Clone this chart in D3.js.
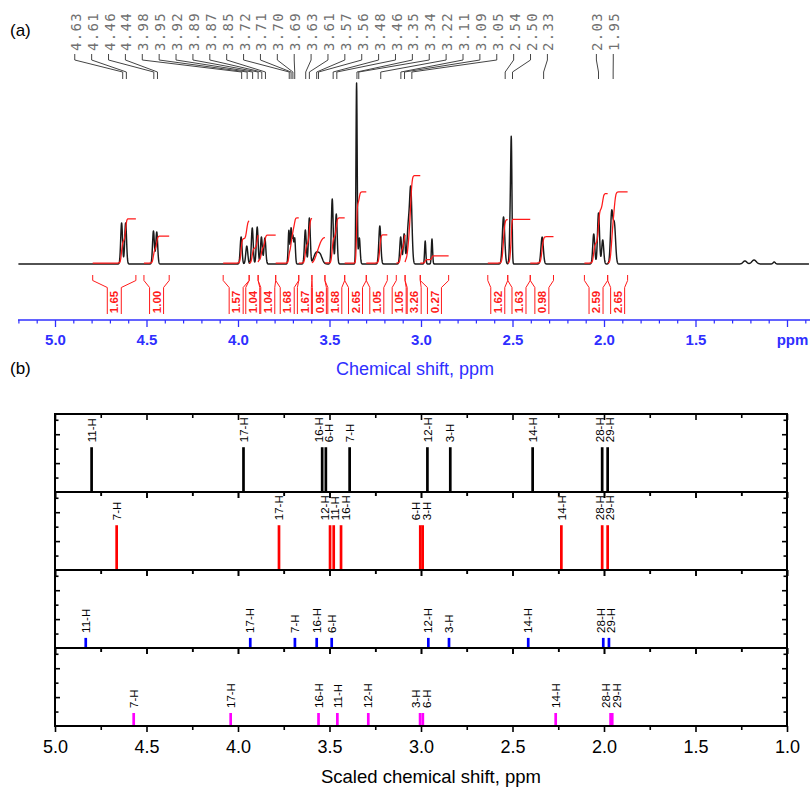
<!DOCTYPE html>
<html><head><meta charset="utf-8">
<script src="https://cdn.jsdelivr.net/npm/d3@7"></script>
<style>body{margin:0;background:#fff}svg{display:block}</style>
</head><body>
<svg id="c" width="810" height="787"></svg>
<script>
// ================= DATA =================
// Panel (a): 1H NMR spectrum peaks (ppm, relative intensity %, line sd in ppm)
const peakPpm = [4.636,4.614,4.462,4.444,3.983,3.952,3.922,3.895,3.872,3.853,3.722,3.710,3.700,3.690,3.632,3.610,3.575,3.552,3.485,3.463,3.352,3.337,3.225,3.111,3.092,3.070,3.056,2.977,2.940,2.549,2.506,2.511,2.338,2.056,2.030,2.007,1.958,1.943,1.23,1.18,1.07];
const peakInt = [22.7,22.7,18.2,17.7,14.9,9.9,19.9,20.4,14.9,14.4,18.5,19.5,15.0,14.0,18.8,25.4,5.5,5.0,35.9,27.6,100,14.4,21.0,14.9,16.6,19.3,41.0,12.7,13.8,26.0,52.5,30.4,14.9,16.6,28.2,13.3,28.2,21.0,1.7,2.2,1.1];
const peakSd = [.005,.005,.005,.005,.005,.0055,.005,.005,.005,.005,.0038,.0038,.0038,.0038,.005,.005,.012,.012,.005,.005,.0033,.0045,.0055,.005,.005,.0065,.0065,.0033,.0033,.0065,.0033,.0045,.0065,.0055,.0055,.0055,.0065,.0065,.01,.012,.006];
// Peak pick labels
const peakLabels = ["4.63","4.61","4.46","4.44","3.98","3.95","3.92","3.89","3.87","3.85","3.72","3.71","3.70","3.69","3.63","3.61","3.57","3.56","3.48","3.46","3.35","3.34","3.22","3.11","3.09","3.05","2.54","2.50","2.33","2.03","1.95"];
// Integration regions
const intFrom = [4.794,4.514,4.081,3.939,3.890,3.794,3.668,3.596,3.525,3.417,3.299,3.135,3.087,3.004,2.635,2.526,2.403,2.107,1.980];
const intTo   = [4.558,4.376,3.939,3.890,3.794,3.668,3.596,3.525,3.417,3.299,3.184,3.087,3.004,2.849,2.526,2.403,2.276,1.980,1.871];
const intValues = ["1.65","1.00","1.57","1.04","1.04","1.68","1.67","0.95","1.68","2.65","1.05","1.05","3.26","0.27","1.62","1.63","0.98","2.59","2.65"];
// Axis (a)
const aMajorTicks = [5.0,4.5,4.0,3.5,3.0,2.5,2.0,1.5,1.0];
const aTickLabels = ["5.0","4.5","4.0","3.5","3.0","2.5","2.0","1.5","ppm"];
const aMinorTicks = [5.2,5.1,4.9,4.8,4.7,4.6,4.4,4.3,4.2,4.1,3.9,3.8,3.7,3.6,3.4,3.3,3.2,3.1,2.9,2.8,2.7,2.6,2.4,2.3,2.2,2.1,1.9,1.8,1.7,1.6,1.4,1.3,1.2,1.1,0.9];

// Panel (b): scaled calculated shifts, four series
const s1Labels = ["11-H","17-H","16-H","6-H","7-H","12-H","3-H","14-H","28-H","29-H"];
const s1Pos    = [4.80,3.97,3.54,3.52,3.39,2.965,2.84,2.39,2.01,1.98];
const s1Vals   = [0.62,0.62,0.62,0.62,0.62,0.62,0.62,0.62,0.62,0.62];
const s2Labels = ["7-H","17-H","12-H","11-H","16-H","6-H","3-H","14-H","28-H","29-H"];
const s2Pos    = [4.663,3.776,3.497,3.477,3.437,3.004,2.991,2.233,2.01,1.98];
const s2Vals   = [0.62,0.62,0.62,0.62,0.62,0.62,0.62,0.62,0.62,0.62];
const s3Labels = ["11-H","17-H","7-H","16-H","6-H","12-H","3-H","14-H","28-H","29-H"];
const s3Pos    = [4.832,3.933,3.689,3.57,3.488,2.96,2.847,2.414,2.004,1.973];
const s3Vals   = [0.14,0.14,0.14,0.14,0.14,0.14,0.14,0.14,0.14,0.14];
const s4Labels = ["7-H","17-H","16-H","11-H","12-H","3-H","6-H","14-H","28-H","29-H"];
const s4Pos    = [4.57,4.04,3.56,3.457,3.288,3.005,2.99,2.264,1.964,1.955];
const s4Vals   = [0.18,0.18,0.18,0.18,0.18,0.18,0.18,0.18,0.18,0.18];
const seriesColors = ["#000000","#ff0000","#0000ff","#ff00ff"];
const bMajorTicks = [5.0,4.5,4.0,3.5,3.0,2.5,2.0,1.5,1.0];
const bTickLabels = ["5.0","4.5","4.0","3.5","3.0","2.5","2.0","1.5","1.0"];
const bMinorTicks = [4.75,4.25,3.75,3.25,2.75,2.25,1.75,1.25];
const bYMajor = [0.4,0.8];
const bYMinor = [0.2,0.6,1.0];

// ================= HELPERS =================
function spread(xs, gap){
  let cl = xs.map((x,i)=>({idx:[i], sum:x, c:x}));
  let changed = true;
  while(changed){
    changed=false;
    for(let i=0;i<cl.length-1;i++){
      const a=cl[i], b=cl[i+1];
      const aEnd=a.c+(a.idx.length-1)*gap/2, bStart=b.c-(b.idx.length-1)*gap/2;
      if(bStart-aEnd<gap-1e-9){
        const idx=a.idx.concat(b.idx), sum=a.sum+b.sum;
        cl.splice(i,2,{idx,sum,c:sum/idx.length}); changed=true; break;
      }
    }
  }
  const out=[];
  cl.forEach(c=>{const n=c.idx.length; c.idx.forEach((id,k)=>{out[id]=c.c+(k-(n-1)/2)*gap;});});
  return out;
}
function spec(p){
  let s=0;
  for(let k=0;k<peakPpm.length;k++){const d=(p-peakPpm[k])/peakSd[k]; if(Math.abs(d)<9) s+=peakInt[k]*Math.exp(-0.5*d*d);}
  return s;
}

const svg = d3.select("#c");
const FONT = "Arial, 'Liberation Sans', sans-serif";
const BLUE = "#2f2fff";

// ================= PANEL (a) =================
const xA = d3.scaleLinear().domain([5.0,1.0]).range([55,787]);
const yA = d3.scaleLinear().domain([0,100]).range([264,83]);
const yInt = d3.scaleLinear().domain([0,1]).range([263,263-26.8]);
const gA = svg.append("g");

svg.append("text").attr("x",10).attr("y",36).text("(a)")
  .attr("font-family",FONT).attr("font-size",17);

// spectrum
const grid = d3.range(5.2, 0.879, -0.001);
const lineA = d3.line().x(d=>xA(d[0])).y(d=>yA(d[1]));
gA.append("path").datum(grid.map(p=>[p,spec(p)])).attr("d",lineA)
  .attr("fill","none").attr("stroke","#1a1a1a").attr("stroke-width",1.45).attr("stroke-linejoin","round");

// integral curves
intFrom.forEach((a,i)=>{
  const b=intTo[i];
  const pts=d3.range(a, b-0.0005, -0.001);
  let cum=0; const cs=pts.map(p=>{cum+=spec(p); return cum;});
  const v=+intValues[i];
  const data=pts.map((p,j)=>[xA(p), yInt(v*cs[j]/cum)]);
  gA.append("path").datum(data).attr("d",d3.line().curve(d3.curveBasis))
    .attr("fill","none").attr("stroke","#ff1a1a").attr("stroke-width",1.25);
});

// integral labels and brackets
const intCenters = intFrom.map((a,i)=>(xA(a)+xA(intTo[i]))/2);
const intLabX = spread(intCenters, 15);
intValues.forEach((v,i)=>{
  const xa=xA(intFrom[i]), xb=xA(intTo[i]), c=intLabX[i];
  gA.append("path")
    .attr("d",`M${xa},275L${xa},280.5L${c-7},287.5L${c-7},314M${xb},275L${xb},280.5L${c+7},287.5L${c+7},314`)
    .attr("fill","none").attr("stroke","#ff1a1a").attr("stroke-width",1);
  gA.append("text").attr("transform",`translate(${c},302) rotate(-90)`)
    .attr("text-anchor","middle").attr("dy","0.36em")
    .attr("font-family",FONT).attr("font-weight","bold").attr("font-size",11.5)
    .attr("fill","#ff1a1a").text(v);
});

// peak pick labels with connectors
const pkX = peakLabels.map(s=>xA(+s));
const pkLabX = spread(pkX, 16.88);
peakLabels.forEach((s,i)=>{
  const lx=pkLabX[i], px=pkX[i];
  gA.append("text").attr("transform",`translate(${lx},51) rotate(-90)`)
    .attr("dy","0.36em").attr("font-family","'DejaVu Sans Mono', monospace")
    .attr("font-size",14).attr("letter-spacing","1.3px").attr("fill","#707070").text(s);
  gA.append("path").attr("d",`M${lx-1},54L${lx-1},60L${px},72L${px},79`)
    .attr("fill","none").attr("stroke","#444").attr("stroke-width",1);
});

// x axis (a)
gA.append("line").attr("x1",18).attr("x2",810).attr("y1",320).attr("y2",320)
  .attr("stroke",BLUE).attr("stroke-width",1.5);
const axA = gA.append("g").attr("transform","translate(0,320)")
  .call(d3.axisBottom(xA).tickValues(aMajorTicks).tickSize(7).tickPadding(7)
    .tickFormat((d,i)=>aTickLabels[i]));
axA.select(".domain").remove();
axA.selectAll("line").attr("stroke",BLUE).attr("stroke-width",1.3);
axA.selectAll("text").attr("fill",BLUE).attr("font-family",FONT).attr("font-weight","bold").attr("font-size",15);
axA.selectAll(".tick").filter(d=>d===1.0).select("text").attr("dx",5);
const axAm = gA.append("g").attr("transform","translate(0,320)")
  .call(d3.axisBottom(xA).tickValues(aMinorTicks).tickSize(3.5).tickFormat(""));
axAm.select(".domain").remove();
axAm.selectAll("line").attr("stroke",BLUE).attr("stroke-width",1.2);
gA.append("text").attr("x",415).attr("y",375).attr("text-anchor","middle")
  .attr("font-family",FONT).attr("font-size",18).attr("fill",BLUE).text("Chemical shift, ppm");

// ================= PANEL (b) =================
svg.append("text").attr("x",10).attr("y",374).text("(b)")
  .attr("font-family",FONT).attr("font-size",17);

const xB = d3.scaleLinear().domain([5,1]).range([55,787]);
const bTop=414, bBottom=726, nP=4, pH=(bBottom-bTop)/nP;
const series=[[s1Labels,s1Pos,s1Vals],[s2Labels,s2Pos,s2Vals],[s3Labels,s3Pos,s3Vals],[s4Labels,s4Pos,s4Vals]];
const gB = svg.append("g");

series.forEach(([labs,pos,vals],si)=>{
  const y0=bTop+si*pH, y1=y0+pH;
  const yS=d3.scaleLinear().domain([0,1.08]).range([y1,y0]);
  const g=gB.append("g");
  const styleAx = sel=>{sel.select(".domain").remove(); sel.selectAll("line").attr("stroke","#000").attr("stroke-width",1.6);};
  g.append("g").attr("transform",`translate(0,${y0})`).call(d3.axisBottom(xB).tickValues(bMajorTicks).tickSize(6).tickFormat("")).call(styleAx);
  g.append("g").attr("transform",`translate(0,${y0})`).call(d3.axisBottom(xB).tickValues(bMinorTicks).tickSize(4).tickFormat("")).call(styleAx);
  const last = si===nP-1;
  const bax = g.append("g").attr("transform",`translate(0,${y1})`)
    .call(d3.axisBottom(xB).tickValues(bMajorTicks).tickSize(6).tickPadding(8).tickFormat((d,i)=> last? bTickLabels[i] : "")).call(styleAx);
  bax.selectAll("text").attr("font-family",FONT).attr("font-size",18).attr("fill","#000");
  g.append("g").attr("transform",`translate(0,${y1})`).call(d3.axisBottom(xB).tickValues(bMinorTicks).tickSize(4).tickFormat("")).call(styleAx);
  g.append("g").attr("transform","translate(55,0)").call(d3.axisRight(yS).tickValues(bYMajor).tickSize(5).tickFormat("")).call(styleAx);
  g.append("g").attr("transform","translate(55,0)").call(d3.axisRight(yS).tickValues(bYMinor).tickSize(3.5).tickFormat("")).call(styleAx);
  g.append("g").attr("transform","translate(787,0)").call(d3.axisLeft(yS).tickValues(bYMajor).tickSize(5).tickFormat("")).call(styleAx);
  g.append("g").attr("transform","translate(787,0)").call(d3.axisLeft(yS).tickValues(bYMinor).tickSize(3.5).tickFormat("")).call(styleAx);
  g.selectAll("line.bar").data(pos).enter().append("line").attr("class","bar")
    .attr("x1",d=>xB(d)).attr("x2",d=>xB(d)).attr("y1",yS(0)).attr("y2",(d,i)=>yS(vals[i]))
    .attr("stroke",seriesColors[si]).attr("stroke-width",2.7);
  const order = d3.range(pos.length).sort((a,b)=>xB(pos[a])-xB(pos[b]));
  const lx = spread(order.map(i=>xB(pos[i])), 10.5);
  order.forEach((i,k)=>{
    g.append("text").attr("transform",`translate(${lx[k]},${yS(vals[i])-5}) rotate(-90)`)
      .attr("dy","0.36em").attr("font-family",FONT).attr("font-size",11.5).attr("fill","#000").text(labs[i]);
  });
  g.append("rect").attr("x",55).attr("y",y0).attr("width",732).attr("height",pH)
    .attr("fill","none").attr("stroke","#000").attr("stroke-width",2);
});
gB.append("text").attr("x",431).attr("y",783).attr("text-anchor","middle")
  .attr("font-family",FONT).attr("font-size",18.5).attr("fill","#000").text("Scaled chemical shift, ppm");
</script>
</body></html>
